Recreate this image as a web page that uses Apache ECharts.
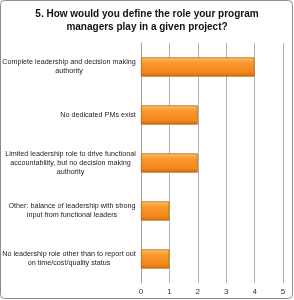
<!DOCTYPE html>
<html><head><meta charset="utf-8">
<script src="https://cdn.jsdelivr.net/npm/echarts@6/dist/echarts.min.js"></script>
<style>html,body{margin:0;padding:0;background:#fff}#c{width:294px;height:300px}</style>
</head><body><div id="c"></div>
<script>
const titleText = '5. How would you define the role your program\nmanagers play in a given project?';
const categories = [
  'Complete leadership and decision making\nauthority',
  'No dedicated PMs exist',
  'Limited leadership role to drive functional\naccountability, but no decision making\nauthority',
  'Other: balance of leadership with strong\ninput from functional leaders',
  'No leadership role other than to report out\non time/cost/quality status'
];
const values = [4, 2, 2, 1, 1];
const xTicks = [0, 1, 2, 3, 4, 5];

const FS = 7.2;
const FAM = '"Liberation Sans", Arial, sans-serif';
const ctx = document.createElement('canvas').getContext('2d');
ctx.font = FS + 'px ' + FAM;
function blockWidth(s){ return Math.ceil(Math.max(...s.split('\n').map(l => ctx.measureText(l).width))); }
const rich = {};
categories.forEach((c, i) => { rich['r' + i] = {width: blockWidth(c), align: 'center', fontSize: FS, lineHeight: 9, color: '#222', fontFamily: FAM}; });

const chart = echarts.init(document.getElementById('c'), null, {renderer: 'canvas'});
chart.setOption({
  animation: false,
  title: {
    text: titleText, left: 'center', top: 3,
    textStyle: {fontSize: 10, fontWeight: 'bold', color: '#111', lineHeight: 13, fontFamily: FAM}
  },
  graphic: [{type: 'rect', shape: {x: 0.5, y: 0.5, width: 292, height: 298, r: 4}, style: {fill: 'none', stroke: '#8c8c8c', lineWidth: 1}, z: -1}],
  grid: {left: 141, right: 11, top: 43, bottom: 17, containLabel: false, outerBoundsMode: 'none'},
  xAxis: {
    type: 'value', min: 0, max: 5, interval: 1,
    axisLine: {show: false}, axisTick: {show: false},
    splitLine: {lineStyle: {color: '#b0b0b0', width: 1}},
    axisLabel: {fontSize: 8, color: '#333', margin: 5, fontFamily: FAM, formatter: v => String(xTicks[v] ?? v)}
  },
  yAxis: {
    type: 'category', data: categories, inverse: true,
    axisLine: {show: true, lineStyle: {color: '#a0a0a0'}}, axisTick: {show: false},
    axisLabel: {
      margin: 5, align: 'right', rich: rich,
      formatter: (v, i) => v.split('\n').map(l => '{r' + i + '|' + l + '}').join('\n')
    }
  },
  series: [{
    type: 'bar', data: values, barWidth: '40%',
    itemStyle: {
      color: new echarts.graphic.LinearGradient(0, 0, 0, 1, [
        {offset: 0, color: '#fcc36a'},
        {offset: 0.25, color: '#f99a2c'},
        {offset: 0.8, color: '#f0861a'},
        {offset: 1, color: '#c96a10'}
      ]),
      borderColor: '#c0660e', borderWidth: 0.8
    }
  }]
});
</script></body></html>
